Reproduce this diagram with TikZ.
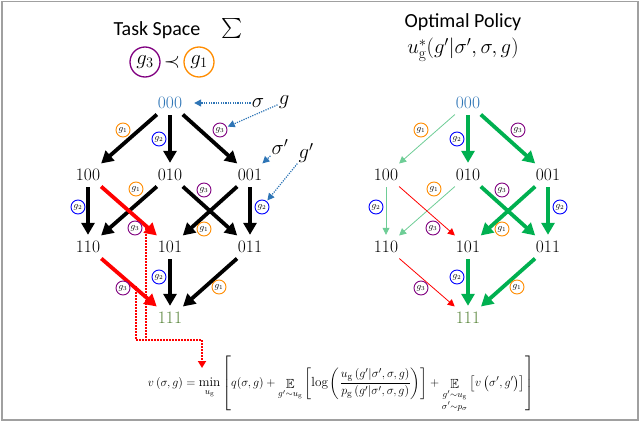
\documentclass[tikz,border=0pt]{standalone}
\usepackage{amsmath,amssymb}
\usepackage{fontspec}
\newfontfamily\carl{Carlito}
\usetikzlibrary{arrows.meta,calc}
\definecolor{cblue}{RGB}{46,117,182}
\definecolor{cgreentxt}{RGB}{84,130,53}
\definecolor{cgthick}{RGB}{0,176,80}
\definecolor{cgthin}{RGB}{110,205,150}
\definecolor{cred}{RGB}{255,0,0}
\definecolor{corange}{RGB}{255,140,0}
\definecolor{cpurple}{RGB}{128,0,128}
\definecolor{cbluec}{RGB}{0,0,255}
\definecolor{cframe}{RGB}{160,160,160}
\newcommand\mklattice[1]{%
  \node[st,text=cblue] (#1000) at (170,103) {000};
  \node[st] (#1100) at (88,175) {100};
  \node[st] (#1010) at (170,175) {010};
  \node[st] (#1001) at (250,175) {001};
  \node[st] (#1110) at (88,247) {110};
  \node[st] (#1101) at (170,247) {101};
  \node[st] (#1011) at (250,247) {011};
  \node[st,text=cgreentxt] (#1111) at (170,318) {111};
}
\newcommand\mklabels[1]{%
  \node[glab,draw=corange] (#1l1) at (123,130) {$g_1$};
  \node[glab,draw=cbluec] (#1l2) at (159,139) {$g_2$};
  \node[glab,draw=cpurple] (#1l3) at (220,130) {$g_3$};
  \node[glab,draw=cbluec] (#1l4) at (78,207) {$g_2$};
  \node[glab,draw=corange] (#1l5) at (136,189) {$g_1$};
  \node[glab,draw=cpurple] (#1l6) at (204,190) {$g_3$};
  \node[glab,draw=cbluec] (#1l7) at (262,207) {$g_2$};
  \node[glab,draw=cpurple] (#1l8) at (135,228) {$g_3$};
  \node[glab,draw=corange] (#1l9) at (204,229) {$g_1$};
  \node[glab,draw=cbluec] (#1l10) at (159,277) {$g_2$};
  \node[glab,draw=cpurple] (#1l11) at (123,288) {$g_3$};
  \node[glab,draw=corange] (#1l12) at (219,287) {$g_1$};
}
\begin{document}
\begin{tikzpicture}[x=1pt,y=-1pt,
  st/.style={font=\fontsize{17.5}{17.5}\selectfont, inner sep=0pt, minimum width=32pt, minimum height=20pt},
  glab/.style={circle, line width=0.9pt, fill=white, inner sep=0pt, minimum size=14pt, font=\fontsize{9}{9}\selectfont},
  bigc/.style={circle, line width=1.3pt, inner sep=0pt, minimum size=30pt, font=\fontsize{20}{20}\selectfont},
  blk/.style={line width=3.8pt, -{Triangle[length=12pt,width=13pt]}, shorten >=2pt, shorten <=2pt},
  rthick/.style={blk, cred},
  gthick/.style={blk, cgthick},
  thin/.style={line width=0.8pt, -{Triangle[length=7pt,width=7pt]}, shorten >=2pt, shorten <=2pt},
  gthin/.style={thin, cgthin},
  rthin/.style={thin, cred},
  ann/.style={font=\fontsize{20}{20}\selectfont, inner sep=1pt},
  bdot/.style={cblue, dash pattern=on 1.2pt off 1.2pt, line width=1.2pt, -{Triangle[length=7pt,width=7pt]}},
  rdot/.style={color=cred, dash pattern=on 1.5pt off 1.5pt, line width=2pt, line cap=butt}
]
\useasboundingbox (0,0) rectangle (640,441);
\draw[cframe, line width=1.5pt] (2,1.5) rectangle (638,420);

% titles
\node[font=\carl\fontsize{20}{20}\selectfont, inner sep=0pt] (t1) at (157,30) {Task Space};
\node[font=\fontsize{20}{20}\selectfont, inner sep=0pt] (sum) at (232,29) {$\textstyle\sum$};
\node[bigc, draw=cpurple] (c3) at (145,62) {$g_3$};
\node[font=\fontsize{20}{20}\selectfont, inner sep=0pt] (prec) at (172,62) {$\prec$};
\node[bigc, draw=corange] (c1) at (199,62) {$g_1$};
\node[font=\carl\fontsize{20}{20}\selectfont, inner sep=0pt] (t2) at (463,22) {Optimal Policy};
\node[font=\fontsize{22}{22}\selectfont, inner sep=0pt] (t3) at (463,50) {$u^*_{\mathrm{g}}(g'|\sigma',\sigma,g)$};

% lattices
\mklattice{A}
\begin{scope}[xshift=298pt]
\mklattice{B}
\end{scope}

% left edges
\draw[blk] (A000) -- (A100);
\draw[blk] (A000) -- (A010);
\draw[blk] (A000) -- (A001);
\draw[blk] (A100) -- (A110);
\draw[blk] (A010) -- (A110);
\draw[blk] (A010) -- (A011);
\draw[blk] (A001) -- (A101);
\draw[blk] (A001) -- (A011);
\draw[blk] (A101) -- (A111);
\draw[blk] (A011) -- (A111);
\draw[rthick] (A100) -- (A101);
\draw[rthick] (A110) -- (A111);

% right edges
\draw[gthin] (B000) -- (B100);
\draw[gthick] (B000) -- (B010);
\draw[gthick] (B000) -- (B001);
\draw[gthin] (B100) -- (B110);
\draw[gthin] (B010) -- (B110);
\draw[rthin] (B100) -- (B101);
\draw[gthick] (B010) -- (B011);
\draw[gthick] (B001) -- (B101);
\draw[gthick] (B001) -- (B011);
\draw[rthin] (B110) -- (B111);
\draw[gthick] (B101) -- (B111);
\draw[gthick] (B011) -- (B111);

% labels
\mklabels{A}
\begin{scope}[xshift=298pt]
\mklabels{B}
\end{scope}

% annotations
\node[ann] (sig) at (258,103) {$\sigma$};
\node[ann] (gg) at (284,102) {$g$};
\node[ann] (sigp) at (280,147) {$\sigma'$};
\node[ann] (ggp) at (306,153) {$g'$};
\draw[bdot, shorten >=8pt] (sig) -- (A000);
\draw[bdot, shorten >=1pt] (gg) -- (Al3);
\draw[bdot, shorten >=2pt] (sigp) -- (A001);
\draw[bdot, shorten >=1pt] (ggp) -- (Al7);

% red dotted link to equation
\coordinate (r1) at (146,225);
\coordinate (r2) at (136,286);
\coordinate (b1) at (146,340);
\coordinate (b2) at (136,340);
\coordinate (bend) at (202,340);
\coordinate (qtip) at (202,368);
\draw[rdot] (r1) -- (b1);
\draw[rdot] (r2) -- (b2);
\draw[rdot, -{Triangle[length=7pt,width=8pt]}] (b2) -- (bend) -- (qtip);

% equation
\node[font=\fontsize{13.2}{15}\selectfont, inner sep=0pt] (eq) at (341,384) {$\displaystyle
v\left(\sigma,g\right)=\min_{u_{\mathrm{g}}}\left[q(\sigma,g)+\mathop{\mathbb{E}}_{g'\sim u_{\mathrm{g}}}\left[\log\left(\frac{u_{\mathrm{g}}\left(g'|\sigma',\sigma,g\right)}{p_{\mathrm{g}}\left(g'|\sigma',\sigma,g\right)}\right)\right]+\mathop{\mathbb{E}}_{\substack{g'\sim u_{\mathrm{g}}\\ \sigma'\sim p_\sigma}}\left[v\left(\sigma',g'\right)\right]\right]$};
\end{tikzpicture}
\end{document}
